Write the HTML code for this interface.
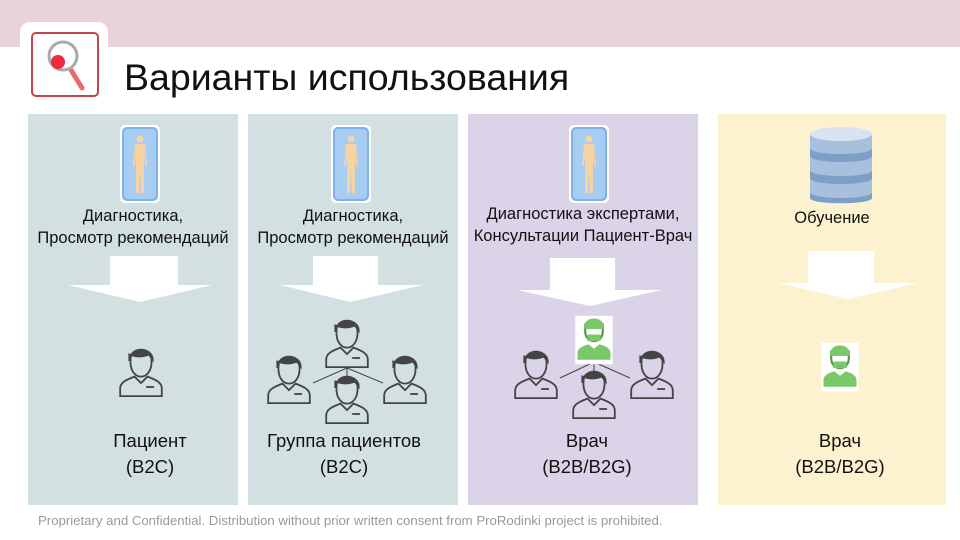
<!DOCTYPE html>
<html><head><meta charset="utf-8"><style>
body{margin:0;width:960px;height:540px;overflow:hidden;background:#fff;font-family:"Liberation Sans",sans-serif;position:relative}
.a{position:absolute}
.t{position:absolute;text-align:center;font-size:16.5px;color:#111;line-height:22px;white-space:nowrap}
.l{position:absolute;text-align:center;font-size:18.5px;color:#111;line-height:26px}
</style></head><body>
<div class="a" style="left:0;top:0;width:960px;height:47px;background:#e8d1da"></div>
<div class="a" style="left:20px;top:22px;width:88px;height:88px;background:#fff;border-radius:10px"></div>
<div class="a" style="left:31px;top:32px;width:64px;height:61px;border:2px solid #c9414f;border-radius:5px;background:#fff"></div>
<svg class="a" style="left:31px;top:32px" width="68" height="65">
<line x1="40" y1="38" x2="51" y2="56" stroke="#e86a72" stroke-width="5" stroke-linecap="round"/>
<circle cx="32" cy="24" r="14" fill="none" stroke="#aaa" stroke-width="3"/>
<circle cx="27" cy="30" r="7" fill="#f02a3a"/>
</svg>
<div class="a" style="left:124px;top:56px;font-size:37.5px;color:#111">Варианты использования</div>

<div class="a" style="left:28px;top:114px;width:210px;height:391px;background:#d3e0e2"></div>
<div class="a" style="left:248px;top:114px;width:210px;height:391px;background:#d3e0e2"></div>
<div class="a" style="left:468px;top:114px;width:230px;height:391px;background:#dbd3e8"></div>
<div class="a" style="left:718px;top:114px;width:228px;height:391px;background:#fdf2cf"></div>

<svg class="a" style="left:0;top:0" width="960" height="540">
<defs>
<g id="ph"><rect x="0" y="0" width="40" height="78" rx="5" fill="#fff"/><rect x="2" y="2" width="36" height="74" rx="5" fill="#7fb3e8"/><rect x="4" y="4" width="32" height="70" rx="4" fill="#a7cdf2"/>
<g transform="translate(3,0)"><circle cx="17" cy="14" r="3.5" fill="#f6d3a3"/><path d="M12 19h10l2 22h-2l-1-13v40h-3l-1-22-1 22h-3V28l-1 13h-2z" fill="#f6d3a3"/></g></g>
<g id="pp0" fill="none" stroke="#444" stroke-width="1.4"><path d="M-8-12c0-9 16-9 16 0c1 10-4 14-8 14s-9-4-8-14z"/><path d="M-9-10c0-11 18-11 18-1l-3-4c-5 2-9 2-15 0z" fill="#444"/><path d="M-16 17v-6c0-5 6-7 11-9l5 5 5-5c5 2 11 4 11 9v6z"/><line x1="4" y1="10" x2="10" y2="10"/></g>
<g id="pp"><use href="#pp0" transform="scale(1.3)"/></g>
<g id="dr0"><rect x="-17" y="-22" width="34" height="44" fill="#fff"/><path d="M-8-8c0 12 16 12 16 0v-6h-16z" fill="#fff" stroke="#5a9a4a" stroke-width="2"/><path d="M-9-12c0-10 18-10 18 0l-1 2h-16z" fill="#7bc86a"/><path d="M-15 18v-6c0-5 6-7 10-8l5 4 5-4c4 1 10 3 10 8v6z" fill="#7bc86a"/><rect x="-6" y="-5" width="12" height="6" fill="#7bc86a"/></g>
<g id="dr"><use href="#dr0" transform="scale(1.1)"/></g>
</defs>
<use href="#ph" x="120" y="125"/><use href="#ph" x="331" y="125"/><use href="#ph" x="569" y="125"/>
<g fill="#fff">
<polygon points="110,256 178,256 178,285 212,285 140,302 68,285 110,285"/>
<polygon points="313,256 378,256 378,285 423,285 350,302 280,285 313,285"/>
<polygon points="550,258 615,258 615,290 662,290 590,306 517,290 550,290"/>
<polygon points="808,251 874,251 874,283 918,283 848,299 778,283 808,283"/>
</g>
<use href="#pp" x="141" y="374"/>
<g stroke="#444" stroke-width="1"><line x1="347" y1="368" x2="313" y2="383"/><line x1="347" y1="368" x2="383" y2="383"/><line x1="347" y1="368" x2="347" y2="378"/>
<line x1="594" y1="362" x2="560" y2="378"/><line x1="594" y1="362" x2="630" y2="378"/><line x1="594" y1="362" x2="594" y2="372"/></g>
<use href="#pp" x="347" y="345"/><use href="#pp" x="289" y="381"/><use href="#pp" x="405" y="381"/><use href="#pp" x="347" y="401"/>
<use href="#dr" x="594" y="340"/><use href="#pp" x="536" y="376"/><use href="#pp" x="652" y="376"/><use href="#pp" x="594" y="396"/>
<use href="#dr" x="840" y="367"/>
<g transform="translate(810,126)">
<path d="M0 8v64c0 7 62 7 62 0V8z" fill="#7d9fc7"/>
<path d="M0 8c0 8 62 8 62 0v14c0 8-62 8-62 0zM0 30c0 8 62 8 62 0v14c0 8-62 8-62 0zM0 52c0 8 62 8 62 0v14c0 8-62 8-62 0z" fill="#a9c0dc"/>
<ellipse cx="31" cy="8" rx="31" ry="7" fill="#d8e4f1"/>
</g>
</svg>

<div class="t" style="left:28px;top:205px;width:210px">Диагностика,<br>Просмотр рекомендаций</div>
<div class="t" style="left:248px;top:205px;width:210px">Диагностика,<br>Просмотр рекомендаций</div>
<div class="t" style="left:468px;top:203px;width:230px">Диагностика экспертами,<br>Консультации Пациент-Врач</div>
<div class="t" style="left:718px;top:207px;width:228px">Обучение</div>

<div class="l" style="left:50px;top:428px;width:200px">Пациент<br>(B2C)</div>
<div class="l" style="left:244px;top:428px;width:200px">Группа пациентов<br>(B2C)</div>
<div class="l" style="left:487px;top:428px;width:200px">Врач<br>(B2B/B2G)</div>
<div class="l" style="left:740px;top:428px;width:200px">Врач<br>(B2B/B2G)</div>

<div class="a" style="left:38px;top:513px;font-size:13.2px;color:#999">Proprietary and Confidential. Distribution without prior written consent from ProRodinki project is prohibited.</div>
</body></html>
